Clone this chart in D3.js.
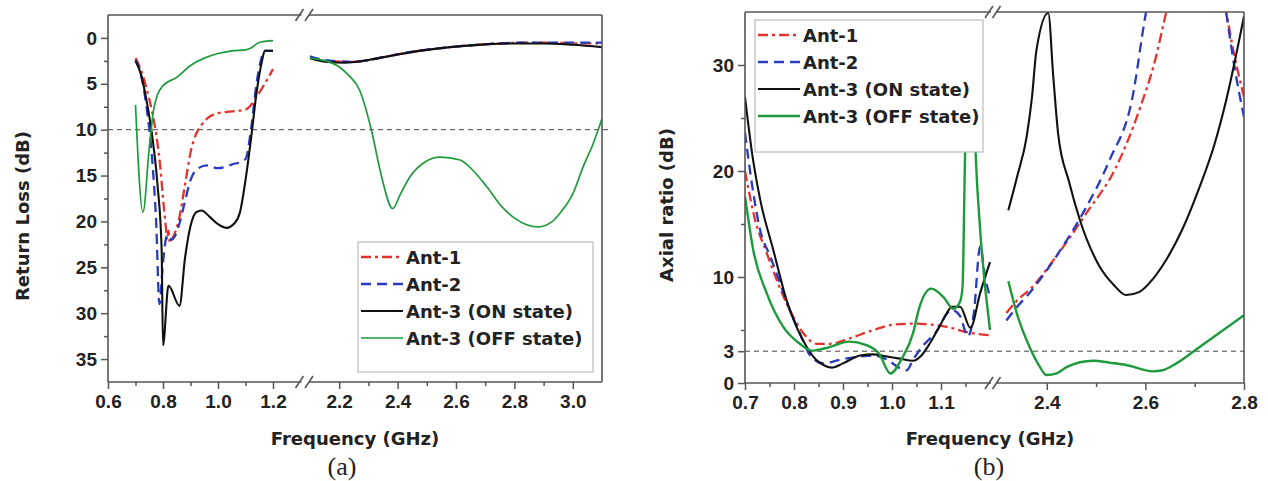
<!DOCTYPE html>
<html>
<head>
<meta charset="utf-8">
<script src="https://cdn.jsdelivr.net/npm/d3@7"></script>
<style>
  body { margin: 0; background: #fff; }
  text { fill: #222; }
</style>
</head>
<body>
<svg id="chart" width="1268" height="481"></svg>
<script>
// ---------- data (a) return loss, dB ----------
var rlAnt1Low = [[0.70,2.2],[0.72,3.5],[0.74,5.5],[0.76,8.0],[0.78,11.5],[0.79,14],[0.80,17.5],[0.81,20.5],[0.815,22],[0.82,21],[0.825,22.3],[0.83,22],[0.84,21.5],[0.86,19.5],[0.88,16],[0.90,12.5],[0.92,10.5],[0.94,9.5],[0.96,8.8],[1.00,8.2],[1.05,8.0],[1.10,7.8],[1.12,7.3],[1.14,6.4],[1.17,5.0],[1.20,3.4]];
var rlAnt1High = [[2.10,2.2],[2.15,2.5],[2.25,2.6],[2.35,2.1],[2.45,1.5],[2.55,1.1],[2.65,0.8],[2.75,0.6],[2.85,0.5],[2.95,0.55],[3.05,0.6],[3.10,0.6]];
var rlAnt2Low = [[0.70,2.4],[0.72,4],[0.74,7.5],[0.76,13],[0.775,20],[0.787,29],[0.80,24.5],[0.815,21.5],[0.83,22],[0.845,21.5],[0.86,20.2],[0.88,17.8],[0.90,15.5],[0.92,14.4],[0.96,13.9],[1.00,14.2],[1.05,13.8],[1.10,13.2],[1.12,10],[1.14,5],[1.16,2],[1.17,1.4],[1.20,1.4]];
var rlAnt2High = [[2.10,2.0],[2.15,2.4],[2.25,2.6],[2.35,2.1],[2.45,1.5],[2.55,1.1],[2.65,0.8],[2.75,0.6],[2.85,0.5],[2.95,0.5],[3.05,0.5],[3.10,0.5]];
var rlOnLow = [[0.70,2.5],[0.72,4],[0.74,6.8],[0.76,10.5],[0.78,16],[0.795,23],[0.80,33.5],[0.82,27],[0.86,29.2],[0.88,24],[0.90,20.5],[0.92,19],[0.94,18.8],[0.97,19.5],[1.00,20.3],[1.03,20.7],[1.06,20.2],[1.08,19],[1.10,15.5],[1.12,11],[1.14,6],[1.16,2.5],[1.17,1.4],[1.20,1.4]];
var rlOnHigh = [[2.10,2.2],[2.15,2.6],[2.22,2.7],[2.30,2.4],[2.40,1.8],[2.50,1.3],[2.60,0.95],[2.70,0.7],[2.80,0.6],[2.90,0.6],[3.00,0.75],[3.10,1.0]];
var rlOffLow = [[0.70,7.3],[0.727,19],[0.75,12],[0.765,8],[0.78,6.2],[0.80,5.2],[0.85,4.3],[0.90,3.0],[0.95,2.2],[1.00,1.7],[1.05,1.4],[1.10,1.3],[1.12,1.1],[1.15,0.5],[1.20,0.3]];
var rlOffHigh = [[2.10,2.2],[2.18,2.8],[2.23,4],[2.27,5.7],[2.31,10],[2.345,15.1],[2.383,18.6],[2.41,17],[2.443,15.1],[2.49,13.6],[2.546,13.0],[2.614,13.3],[2.66,14.5],[2.705,16.2],[2.76,18.5],[2.808,19.8],[2.882,20.6],[2.93,20],[2.956,19.1],[3.0,17],[3.036,14],[3.07,11.5],[3.10,8.8]];

// ---------- data (b) axial ratio, dB ----------
var arAnt1Low = [[0.70,20],[0.72,15.5],[0.744,12.3],[0.785,7.5],[0.819,4.7],[0.846,3.7],[0.873,3.7],[0.913,4.2],[0.962,5.0],[1.003,5.5],[1.043,5.6],[1.08,5.5],[1.112,5.3],[1.153,4.8],[1.20,4.5]];
var arAnt1High = [[2.318,6.6],[2.34,7.8],[2.365,8.8],[2.42,12],[2.48,16],[2.541,20.4],[2.588,25.8],[2.62,30.5],[2.642,34.9],[2.66,38],[2.70,42],[2.75,38],[2.764,34.9],[2.78,31],[2.80,27]];
var arAnt2Low = [[0.70,23.6],[0.715,18.5],[0.731,14.4],[0.751,12],[0.771,9.5],[0.792,6.8],[0.812,4.7],[0.833,2.6],[0.86,1.85],[0.894,2.2],[0.935,2.5],[0.962,2.6],[0.99,2.2],[1.016,1.4],[1.03,1.2],[1.043,2.2],[1.065,3.6],[1.088,4.7],[1.122,6.9],[1.139,6.3],[1.155,4.4],[1.167,6.6],[1.18,12.9],[1.19,10],[1.20,8.1]];
var arAnt2High = [[2.318,5.9],[2.34,7.2],[2.365,8.5],[2.42,12],[2.473,16],[2.527,21],[2.574,27],[2.601,34.9],[2.62,39],[2.70,43],[2.75,39],[2.764,34.9],[2.78,30],[2.80,25.1]];
var arOnLow = [[0.70,27],[0.715,21.5],[0.731,17.3],[0.758,12.5],[0.785,7.8],[0.806,5.2],[0.826,3.4],[0.845,2.2],[0.86,1.7],[0.877,1.45],[0.90,1.85],[0.935,2.6],[0.962,2.7],[0.99,2.5],[1.016,2.3],[1.043,2.1],[1.06,2.6],[1.078,3.8],[1.10,5.6],[1.112,6.6],[1.122,7.2],[1.139,7.2],[1.16,5.2],[1.18,8.5],[1.20,11.4]];
var arOnHigh = [[2.322,16.3],[2.34,19.5],[2.359,23.2],[2.37,27],[2.379,31.4],[2.403,34.9],[2.413,29],[2.423,23.5],[2.445,19],[2.467,15.4],[2.507,11],[2.535,9.3],[2.561,8.3],[2.588,8.6],[2.615,9.8],[2.642,11.6],[2.675,14.5],[2.71,18.5],[2.74,22.5],[2.764,26.7],[2.80,34.6]];
var arOffLow = [[0.70,17.6],[0.717,12.5],[0.744,8.5],[0.778,5.3],[0.812,3.7],[0.836,3.05],[0.866,3.3],[0.913,3.9],[0.946,3.6],[0.973,2.8],[0.997,0.9],[1.02,2.3],[1.043,4.7],[1.055,7.0],[1.08,8.9],[1.105,8.1],[1.125,7.0],[1.139,7.7],[1.144,9.1],[1.149,21.3],[1.155,30],[1.165,30],[1.171,21.3],[1.18,14.4],[1.20,5]];
var arOffHigh = [[2.322,9.6],[2.339,6.6],[2.365,3.4],[2.385,1.6],[2.399,0.75],[2.42,0.9],[2.44,1.5],[2.494,2.1],[2.53,1.9],[2.561,1.7],[2.615,1.1],[2.635,1.2],[2.663,1.85],[2.71,3.4],[2.80,6.4]];

// ---------- ticks / labels ----------
var legendNames = ["Ant-1", "Ant-2", "Ant-3 (ON state)", "Ant-3 (OFF state)"];
var rlXTicks = [0.6, 0.8, 1.0, 1.2, 2.2, 2.4, 2.6, 2.8, 3.0];
var rlXMinor = [0.7, 0.9, 1.1, 2.3, 2.5, 2.7, 2.9];
var rlYTicks = [0, 5, 10, 15, 20, 25, 30, 35];
var rlYMinor = [2.5, 7.5, 12.5, 17.5, 22.5, 27.5, 32.5];
var arXTicks = [0.7, 0.8, 0.9, 1.0, 1.1, 2.4, 2.6, 2.8];
var arXMinor = [0.75, 0.85, 0.95, 1.05, 1.15, 2.5, 2.7];
var arYTicks = [0, 3, 10, 20, 30];
var arYMinor = [5, 15, 25];

var styles = [
  { color: "#e2332d", dash: "10,4,3,4", width: 2.3 },
  { color: "#2a3bbd", dash: "10,6", width: 2.3 },
  { color: "#111111", dash: null, width: 2.1 },
  { color: "#1e9a3c", dash: null, width: 1.7 }
];

var svg = d3.select("#chart");
var tickFont = "bold 19px 'Liberation Sans', Arial, sans-serif";
var titleFont = "bold 18px 'DejaVu Sans', sans-serif";

function drawPanel(p) {
  var g = svg.append("g");
  var x = d3.scaleLinear().domain(p.xDomain).range(p.xRange);
  var y = d3.scaleLinear().domain(p.yDomain).range(p.yRange);
  var x0 = p.xRange[0], x1 = p.xRange[3];
  var yTop = Math.min(p.yRange[0], p.yRange[1]), yBot = Math.max(p.yRange[0], p.yRange[1]);

  g.append("clipPath").attr("id", p.id + "clip")
    .append("rect").attr("x", x0).attr("y", yTop).attr("width", x1 - x0).attr("height", yBot - yTop);

  // reference dashed line
  g.append("line")
    .attr("x1", x0).attr("x2", p.refEnd)
    .attr("y1", y(p.refLine)).attr("y2", y(p.refLine))
    .attr("stroke", "#444").attr("stroke-width", 1).attr("stroke-dasharray", "5,4");

  // curves
  var line = d3.line().x(function(d) { return x(d[0]); }).y(function(d) { return y(d[1]); })
    .curve(d3.curveMonotoneX);
  var curves = g.append("g").attr("clip-path", "url(#" + p.id + "clip)");
  p.series.forEach(function(s, i) {
    var st = styles[i];
    s.forEach(function(seg) {
      curves.append("path").datum(seg)
        .attr("d", line)
        .attr("fill", "none")
        .attr("stroke", st.color)
        .attr("stroke-width", i == 3 ? p.greenWidth : st.width)
        .attr("stroke-dasharray", st.dash)
        .attr("stroke-linejoin", "round");
    });
  });

  // frame (with break)
  var gapA = p.xRange[1] + 1, gapB = p.xRange[2] - 1;
  var frame = g.append("g").attr("stroke", "#555").attr("stroke-width", 1.6).attr("fill", "none");
  frame.append("line").attr("x1", x0).attr("x2", x0).attr("y1", yTop).attr("y2", yBot);
  frame.append("line").attr("x1", x1).attr("x2", x1).attr("y1", yTop).attr("y2", yBot);
  [yTop, yBot].forEach(function(yy) {
    frame.append("line").attr("x1", x0).attr("x2", gapA).attr("y1", yy).attr("y2", yy);
    frame.append("line").attr("x1", gapB).attr("x2", x1).attr("y1", yy).attr("y2", yy);
    [gapA - 3, gapB - 1].forEach(function(bx) {
      frame.append("line").attr("x1", bx - 3).attr("y1", yy + 6).attr("x2", bx + 5).attr("y2", yy - 6);
    });
  });

  // axes
  g.append("g").attr("transform", "translate(0," + yBot + ")")
    .call(d3.axisBottom(x).tickValues(p.xTicks).tickSize(7).tickSizeOuter(0).tickPadding(6)
      .tickFormat(d3.format(".1f")));
  g.append("g").attr("transform", "translate(0," + yBot + ")")
    .call(d3.axisBottom(x).tickValues(p.xMinor).tickSize(4).tickSizeOuter(0).tickFormat(""));
  g.append("g").attr("transform", "translate(" + x0 + ",0)")
    .call(d3.axisLeft(y).tickValues(p.yTicks).tickSize(7).tickSizeOuter(0).tickPadding(4));
  g.append("g").attr("transform", "translate(" + x0 + ",0)")
    .call(d3.axisLeft(y).tickValues(p.yMinor).tickSize(4).tickSizeOuter(0).tickFormat(""));
  g.selectAll(".domain").remove();
  g.selectAll(".tick line").attr("stroke", "#555").attr("stroke-width", 1.5);
  g.selectAll(".tick text").style("font", tickFont).attr("fill", "#222");

  // titles
  g.append("text")
    .attr("transform", "translate(" + p.yTitleX + "," + p.yTitleY + ") rotate(-90)")
    .attr("text-anchor", "middle").style("font", titleFont).text(p.yTitle);
  g.append("text").attr("x", p.xTitleX).attr("y", 445)
    .attr("text-anchor", "middle").style("font", titleFont).text("Frequency (GHz)");
  g.append("text").attr("x", p.tagX).attr("y", 475)
    .attr("text-anchor", "middle").style("font", "26px 'Liberation Serif', 'Times New Roman', serif")
    .text(p.tag);

  // legend
  var L = p.legend;
  var lg = g.append("g");
  lg.append("rect").attr("x", L.x).attr("y", L.y).attr("width", L.w).attr("height", L.h)
    .attr("fill", "#fff").attr("stroke", "#bbb").attr("stroke-width", 1.2);
  legendNames.forEach(function(name, i) {
    var st = styles[i];
    var yy = L.y + 15 + i * 27;
    lg.append("line").attr("x1", L.x + 3).attr("x2", L.x + 45).attr("y1", yy).attr("y2", yy)
      .attr("stroke", st.color).attr("stroke-width", i == 3 ? p.greenWidth : st.width)
      .attr("stroke-dasharray", st.dash);
    lg.append("text").attr("x", L.x + 48).attr("y", yy + 6.5)
      .style("font", titleFont).text(name);
  });
}

drawPanel({
  id: "a",
  xDomain: [0.6, 1.3, 2.1, 3.1], xRange: [108, 300.5, 310, 602],
  yDomain: [-2.5, 37.5], yRange: [15, 382],
  xTicks: rlXTicks, xMinor: rlXMinor, yTicks: rlYTicks, yMinor: rlYMinor,
  refLine: 10, refEnd: 612,
  series: [[rlAnt1Low, rlAnt1High], [rlAnt2Low, rlAnt2High], [rlOnLow, rlOnHigh], [rlOffLow, rlOffHigh]],
  greenWidth: 1.7,
  yTitle: "Return Loss (dB)", yTitleX: 29, yTitleY: 216,
  xTitleX: 355, tagX: 342, tag: "(a)",
  legend: { x: 358, y: 242, w: 235, h: 130 }
});

drawPanel({
  id: "b",
  xDomain: [0.7, 1.2, 2.3, 2.8], xRange: [745, 990, 997.5, 1244],
  yDomain: [0, 35], yRange: [383, 12],
  xTicks: arXTicks, xMinor: arXMinor, yTicks: arYTicks, yMinor: arYMinor,
  refLine: 3, refEnd: 1244,
  series: [[arAnt1Low, arAnt1High], [arAnt2Low, arAnt2High], [arOnLow, arOnHigh], [arOffLow, arOffHigh]],
  greenWidth: 2.4,
  yTitle: "Axial ratio (dB)", yTitleX: 673, yTitleY: 205,
  xTitleX: 990, tagX: 989, tag: "(b)",
  legend: { x: 755, y: 20, w: 228, h: 132 }
});
</script>
</body>
</html>
